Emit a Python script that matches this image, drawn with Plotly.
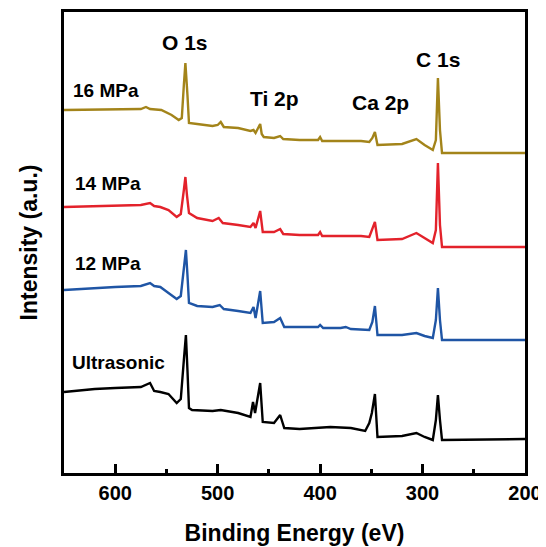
import plotly.graph_objects as go

# ---- data (binding energy in eV, intensity in a.u.) ----
gold_E = [650, 600, 575, 570, 566, 555, 545, 538, 535, 533, 531.5, 529.5, 528, 520, 505, 500, 497, 494,
          480, 468, 465, 463, 460, 458.5, 457, 455, 445, 439, 436, 420, 402, 400, 398, 360, 352, 349,
          346.5, 344, 320, 306, 298, 290, 287, 285, 283, 281, 200]
gold_I = [363, 364, 364, 366, 364, 363, 358, 353, 355, 388, 410, 378, 350, 349, 347, 348, 351, 346,
          345, 342, 343, 340, 347, 349, 339, 336, 335, 337, 334, 333, 333, 336, 332, 332, 331, 335,
          341, 328, 329, 334, 328, 323, 333, 395, 343, 320, 320]

red_E = [650, 620, 600, 575, 566, 562, 556, 548, 540, 536, 533, 531.5, 530, 528, 520, 505, 499, 495,
         480, 468, 465, 463, 458.5, 456, 445, 439, 436, 420, 402, 400, 398, 360, 352, 349, 346.5, 344,
         320, 306, 298, 290, 287, 285, 283, 281, 200]
red_I = [266, 267, 267, 268, 270, 267, 266, 263, 256, 259, 283, 296, 278, 260, 255, 252, 255, 250,
         248, 246, 250, 245, 262, 241, 241, 244, 239, 238, 238, 241, 237, 237, 236, 245, 251, 233,
         234, 240, 235, 230, 243, 310, 248, 226, 226]

blue_E = [650, 620, 600, 575, 566, 562, 556, 548, 540, 536, 533, 531, 529.5, 528, 520, 505, 498, 494,
          480, 468, 465, 463, 458.5, 456, 445, 439, 435, 420, 402, 400, 397, 380, 375, 370, 352, 349,
          346.5, 344, 320, 306, 298, 290, 287, 285, 283, 281, 200]
blue_I = [183, 185, 186, 187, 190, 187, 186, 180, 174, 177, 208, 223, 198, 170, 167, 166, 168, 164,
          162, 160, 166, 155, 182, 150, 151, 155, 146, 146, 146, 148, 145, 145, 146, 144, 143, 151,
          167, 138, 138, 140, 137, 135, 153, 185, 153, 133, 133]

black_E = [650, 620, 600, 575, 566, 562, 556, 548, 540, 536, 533, 531, 529.5, 528, 525, 505, 497, 480,
           468, 465.5, 463.5, 458.5, 456, 445, 439, 435, 420, 390, 370, 356, 352, 349.5, 346.5, 344,
           320, 306, 298, 290, 287, 285, 283, 281, 200]
black_I = [81, 84, 85, 86, 90, 82, 81, 79, 70, 74, 113, 138, 103, 65, 63, 62, 63, 60,
           56, 71, 60, 90, 51, 50, 58, 45, 44, 46, 45, 42, 50, 60, 79, 36,
           37, 40, 36, 33, 53, 78, 53, 33, 34]

series_names = ["16 MPa", "14 MPa", "12 MPa", "Ultrasonic"]
series_colors = ["#A3841A", "#E3222B", "#1F55A5", "#000000"]
series_E = [gold_E, red_E, blue_E, black_E]
series_I = [gold_I, red_I, blue_I, black_I]
label_pos = [(643, 383), (641, 290), (641, 210), (644, 111)]

peak_labels = ["O 1s", "Ti 2p", "Ca 2p", "C 1s"]
peak_pos = [(531.5, 431), (445, 375), (341, 371), (284.6, 414)]

tick_vals = [600, 500, 400, 300, 200]

FONT = "Liberation Sans, Arial, sans-serif"

fig = go.Figure()
for name, color, E, I in zip(series_names, series_colors, series_E, series_I):
    fig.add_trace(go.Scatter(x=E, y=I, mode="lines", name=name,
                             line=dict(color=color, width=2.4), showlegend=False))

for name, (x, y) in zip(series_names, label_pos):
    fig.add_annotation(x=x, y=y, text=f"<b>{name}</b>", showarrow=False, xanchor="left",
                       yanchor="middle", font=dict(family=FONT, size=19, color="black"))
for name, (x, y) in zip(peak_labels, peak_pos):
    fig.add_annotation(x=x, y=y, text=f"<b>{name}</b>", showarrow=False, xanchor="center",
                       yanchor="middle", font=dict(family=FONT, size=21, color="black"))

# the page body adds an 8px offset, so the figure is sized to fill the remaining window
fig.update_layout(
    width=538, height=539,
    margin=dict(l=56, r=21, t=4, b=74),
    paper_bgcolor="white", plot_bgcolor="white",
    font=dict(family=FONT, color="black"),
    xaxis=dict(range=[650, 200], tickvals=tick_vals, automargin=False,
               ticktext=[f"<b>{v}</b>" for v in tick_vals],
               ticks="inside", ticklen=9, tickwidth=2.5, tickcolor="black",
               minor=dict(dtick=50, tick0=200, ticks="inside", ticklen=4, tickwidth=2.5, tickcolor="black"),
               showline=True, linewidth=2.8, linecolor="black", mirror=True,
               showgrid=False, zeroline=False,
               tickfont=dict(family=FONT, size=20, color="black"),
               title=dict(text="<b>Binding Energy (eV)</b>", standoff=22,
                          font=dict(family=FONT, size=23, color="black"))),
    yaxis=dict(range=[0, 461], showticklabels=False, ticks="", automargin=False,
               showline=True, linewidth=2.8, linecolor="black", mirror=True,
               showgrid=False, zeroline=False,
               title=dict(text="<b>Intensity (a.u.)</b>", standoff=18,
                          font=dict(family=FONT, size=23, color="black"))),
)

fig.write_html("out.html")
